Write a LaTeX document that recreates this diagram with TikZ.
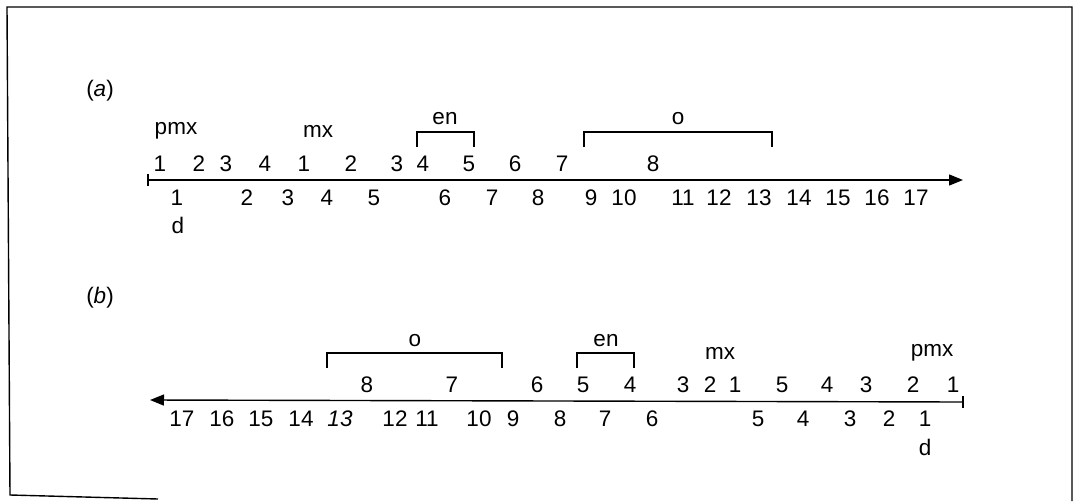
\documentclass[tikz,border=0pt]{standalone}
\usepackage{fontspec}
\setmainfont{Liberation Sans}
\usetikzlibrary{arrows.meta}
\begin{document}
\begin{tikzpicture}[x=1pt,y=-1pt,
  lbl/.style={inner sep=0pt,font=\fontsize{22.5}{25}\selectfont},
  axisline/.style={line width=1.4pt},
  bracketline/.style={line width=1.2pt},
  frameline/.style={line width=1.4pt}]
\useasboundingbox (0,0) rectangle (1081,501);
% frame
\coordinate (f1) at (7,7);
\coordinate (f2) at (1072,7);
\coordinate (f3) at (1072,501);
\coordinate (f4) at (10,495);
\coordinate (f5) at (158,499);
\draw[frameline] (f5) -- (f4) -- (f1) -- (f2) -- (f3);

% ---------- (a) ----------
\node[lbl] (pa) at (100,91) {(\textit{a})};
\coordinate (a0) at (148,180);
\coordinate (a1) at (963,180);
\draw[axisline,-{Triangle[length=14pt,width=11pt]}] (a0) -- (a1);
\draw[axisline] ([yshift=-6pt]a0) -- ([yshift=6pt]a0);
\foreach \x/\t [count=\i] in {160/1,199/2,226/3,265/4,304/1,351/2,397/3,423/4,469/5,515/6,562/7,653/8}
  \node[lbl] (at\i) at (\x,164) {\t};
\foreach \x/\t [count=\i] in {177/1,247/2,288/3,327/4,374/5,445/6,492/7,538/8,591/9,624/10,683/11,719/12,759/13,799/14,838/15,877/16,916/17}
  \node[lbl] (ab\i) at (\x,198) {\t};
\node[lbl] (ad) at (178,225) {d};
\node[lbl] (apmx) at (176,131) {pmx};
\node[lbl] (amx) at (318,131) {mx};
\node[lbl] (aen) at (445,119) {en};
\node[lbl] (ao) at (678,119) {o};
\coordinate (aenL) at (417,147); \coordinate (aenR) at (474,147);
\coordinate (aoL) at (584,147); \coordinate (aoR) at (772,147);
\draw[bracketline] (aenL) -- ++(0,-15) -| (aenR);
\draw[bracketline] (aoL) -- ++(0,-15) -| (aoR);

% ---------- (b) ----------
\node[lbl] (pb) at (100,298) {(\textit{b})};
\coordinate (b0) at (963,402);
\coordinate (b1) at (150,400);
\draw[axisline,-{Triangle[length=14pt,width=11pt]}] (b0) -- (b1);
\draw[axisline] ([yshift=-6pt]b0) -- ([yshift=6pt]b0);
\foreach \x/\t [count=\i] in {367/8,452/7,537/6,583/5,630/4,683/3,710/2,735/1,782/5,827/4,866/3,913/2,953/1}
  \node[lbl] (bt\i) at (\x,385) {\t};
\foreach \x/\t [count=\i] in {182/17,222/16,261/15,301/14,340/\textit{13},395/12,427/11,479/10,513/9,560/8,605/7,652/6,758/5,803/4,850/3,889/2,925/1}
  \node[lbl] (bb\i) at (\x,419) {\t};
\node[lbl] (bd) at (925,447) {d};
\node[lbl] (bmx) at (720,353) {mx};
\node[lbl] (bpmx) at (932,353) {pmx};
\node[lbl] (ben) at (606,341) {en};
\node[lbl] (bo) at (415,341) {o};
\coordinate (boL) at (327,368); \coordinate (boR) at (502,368);
\coordinate (benL) at (577,368); \coordinate (benR) at (634,368);
\draw[bracketline] (boL) -- ++(0,-15) -| (boR);
\draw[bracketline] (benL) -- ++(0,-15) -| (benR);
\end{tikzpicture}
\end{document}
